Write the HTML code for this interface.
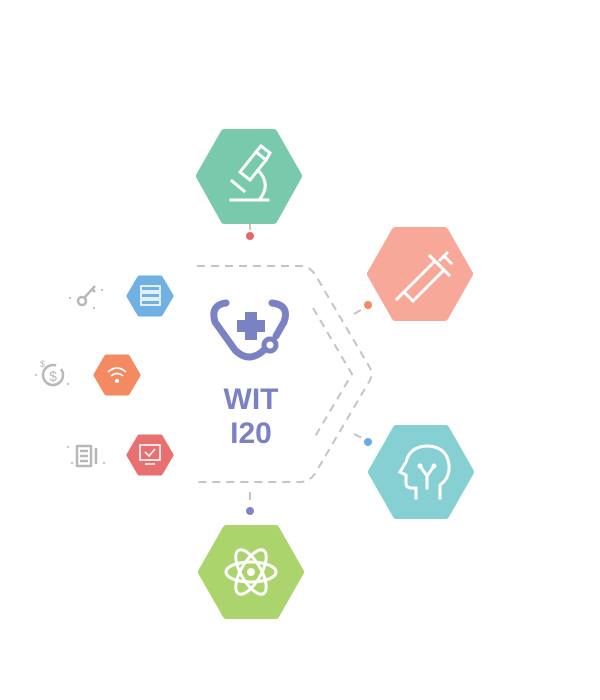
<!DOCTYPE html>
<html><head><style>html,body{margin:0;padding:0;background:#fff;width:600px;height:700px;overflow:hidden}</style></head>
<body>
<svg width="600" height="700" viewBox="0 0 600 700" xmlns="http://www.w3.org/2000/svg">
<g fill="none" stroke="#c4c4c4" stroke-width="2" stroke-dasharray="8,6">
<path d="M197,266 H300 Q310,266 316,276 L370,368 Q373,374 370,380 L316,472 Q310,482 300,482 H197"/>
<path d="M313,308 L352,374 L313,440"/>
<path d="M250,222 V232"/><path d="M250,492 V505"/>
<path d="M354,314 L366,307"/><path d="M354,434 L366,440"/>
</g>
<circle cx="250" cy="236" r="4" fill="#e8666a"/>
<circle cx="368" cy="305" r="4" fill="#f48a62"/>
<circle cx="368" cy="442" r="4" fill="#6aace0"/>
<circle cx="250" cy="511" r="4" fill="#7f86c4"/>
<g stroke-linejoin="round" stroke-width="8">
<path fill="#79c9ad" stroke="#79c9ad" d="M200,176 L224.5,133 H273.5 L298,176 L273.5,220 H224.5Z"/>
<path fill="#f7a898" stroke="#f7a898" d="M371,274 L395.5,231 H444.5 L469,274 L444.5,317 H395.5Z"/>
<path fill="#86d0d3" stroke="#86d0d3" d="M372,472 L396.5,429 H445.5 L470,472 L445.5,515 H396.5Z"/>
<path fill="#acd46d" stroke="#acd46d" d="M202,572 L226.5,529 H275.5 L300,572 L275.5,615 H226.5Z"/>
<g stroke-width="5">
<path fill="#70b0e2" stroke="#70b0e2" d="M129,296 L139.5,278 H160.5 L171,296 L160.5,314 H139.5Z"/>
<path fill="#f48a62" stroke="#f48a62" d="M96,375 L106.5,357 H127.5 L138,375 L127.5,393 H106.5Z"/>
<path fill="#e87070" stroke="#e87070" d="M129,455 L139.5,437 H160.5 L171,455 L160.5,473 H139.5Z"/>
</g></g>
<g stroke="#fff" stroke-width="3" fill="none" stroke-linecap="square">
<path d="M231,200 H268"/><path d="M259,200 Q272,185 258,170"/>
<path d="M240,172 L256,152 L266,160 L250,180Z"/><path d="M256,152 L261,146 L270,153 L266,160"/>
<path d="M232,181 L244,191"/>
<path d="M404,292 L435,261 L444,270 L413,301Z"/><path d="M430,256 L449,275"/><path d="M440,260 L447,253 M444,256 L451,263"/><path d="M404,292 L397,299"/>
<path d="M440,498 V485 Q450,478 449,465 Q447,447 428,446 Q410,446 406,462 L400,472 L406,475 V483 Q406,488 412,488 H416 V498"/>
<path d="M420,466 L427,476 L434,466 M427,476 V488"/>
<ellipse cx="251" cy="572" rx="25" ry="10"/><ellipse cx="251" cy="572" rx="25" ry="10" transform="rotate(60 251 572)"/><ellipse cx="251" cy="572" rx="25" ry="10" transform="rotate(-60 251 572)"/>
</g>
<circle cx="420" cy="466" r="2.5" fill="#fff"/><circle cx="434" cy="466" r="2.5" fill="#fff"/>
<circle cx="251" cy="572" r="4" fill="#fff"/>
<g stroke="#fff" stroke-width="1.6" fill="none">
<rect x="141" y="286" width="19" height="5"/><rect x="141" y="293" width="19" height="5"/><rect x="141" y="300" width="19" height="5"/>
<path d="M108,372 Q117,364 126,372 M111,376 Q117,371 123,376"/>
<rect x="140" y="445" width="20" height="15"/><path d="M145,464 H155 M145,452 L149,456 L155,449"/>
</g>
<circle cx="117" cy="381" r="2" fill="#fff"/>
<g stroke="#b8b8b8" stroke-width="2.5" fill="none">
<circle cx="82" cy="301" r="4"/><path d="M85,297 L95,286 M92,289 L95,292"/>
<circle cx="53" cy="375" r="10" stroke-dasharray="50,6"/>
<rect x="77" y="446" width="14" height="20"/><path d="M80,451 H88 M80,456 H88 M80,461 H88 M96,448 V464"/>
</g>
<g fill="#c8c8c8"><circle cx="70" cy="298" r="1.2"/><circle cx="102" cy="290" r="1.2"/><circle cx="94" cy="308" r="1.2"/><circle cx="36" cy="375" r="1.2"/><circle cx="68" cy="384" r="1.2"/><circle cx="68" cy="447" r="1.2"/><circle cx="72" cy="463" r="1.2"/><circle cx="104" cy="463" r="1.2"/></g>
<text x="53" y="381" font-family="Liberation Sans,sans-serif" font-size="14" fill="#b8b8b8" text-anchor="middle">$</text>
<text x="40" y="367" font-family="Liberation Sans,sans-serif" font-size="9" fill="#b8b8b8">$</text>
<g stroke="#7b82c3" stroke-width="7" fill="none" stroke-linecap="round">
<path d="M226,303 Q210,305 215,322 L235,350 Q250,365 266,348"/>
<path d="M272,303 Q290,305 284,322 L276,336"/>
</g>
<circle cx="270" cy="345" r="6" fill="#fff" stroke="#7b82c3" stroke-width="5"/>
<path d="M245,312 H257 V320 H265 V332 H257 V340 H245 V332 H237 V320 H245Z" fill="#7b82c3"/>
<text x="251" y="409" font-family="Liberation Sans,sans-serif" font-weight="bold" font-size="30" fill="#7b82c3" text-anchor="middle">WIT</text>
<text x="251" y="443" font-family="Liberation Sans,sans-serif" font-weight="bold" font-size="30" fill="#7b82c3" text-anchor="middle">I20</text>
</svg>
</body></html>
